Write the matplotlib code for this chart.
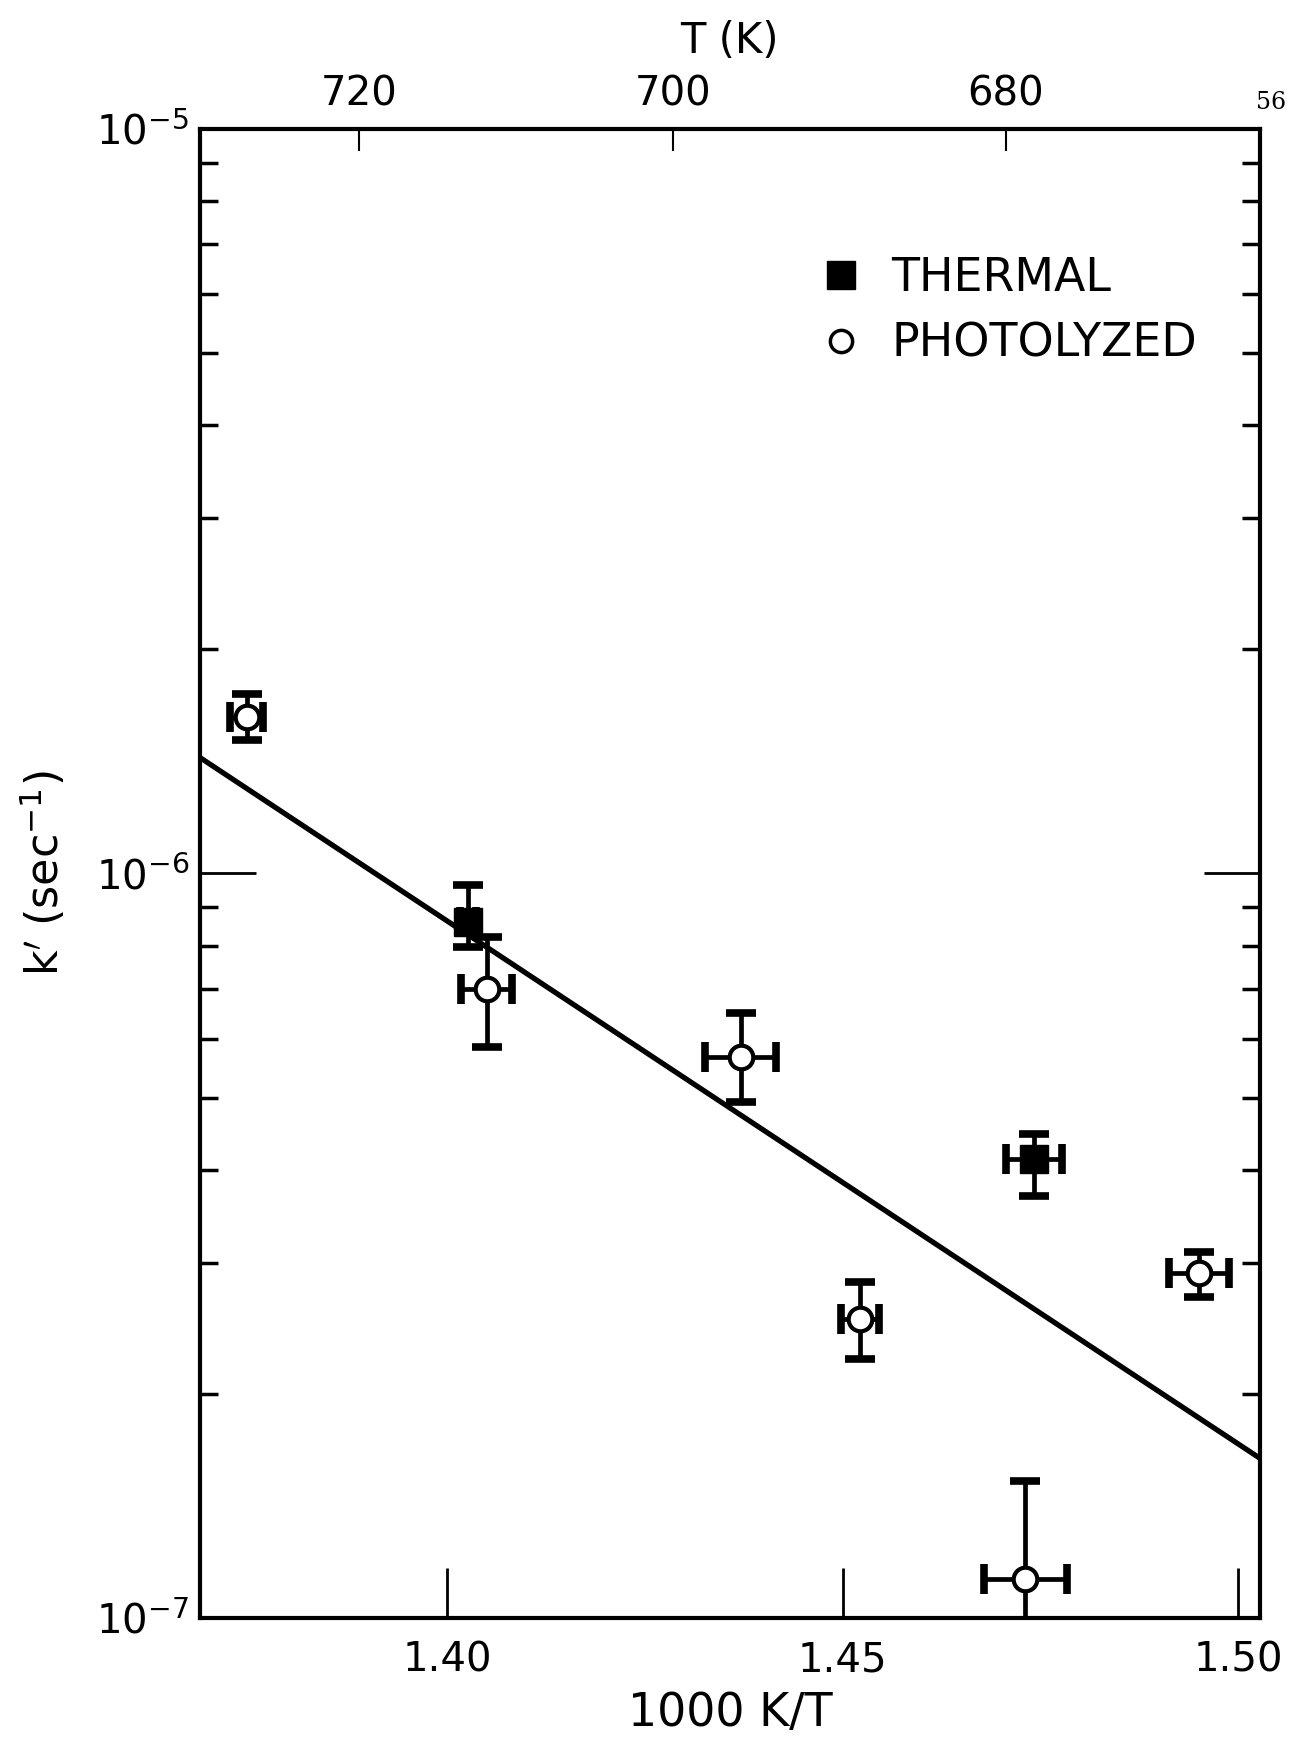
import matplotlib
matplotlib.use("Agg")
import matplotlib.pyplot as plt
from matplotlib.lines import Line2D
from matplotlib.ticker import LogLocator, NullFormatter

# data: x = 1000 K/T, y = k' (sec^-1)
photo_x = [1.3747, 1.4050, 1.4371, 1.4522, 1.4950, 1.4731]
photo_k = [1.62e-6, 7.00e-7, 5.66e-7, 2.52e-7, 2.91e-7, 1.13e-7]
photo_k_hi = [1.74e-6, 8.21e-7, 6.49e-7, 2.83e-7, 3.10e-7, 1.53e-7]
photo_k_lo = [1.51e-6, 5.84e-7, 4.93e-7, 2.23e-7, 2.70e-7, 0.80e-7]
photo_xerr = [0.0021, 0.0032, 0.0045, 0.0024, 0.0038, 0.0052]

thermal_x = [1.4027, 1.4742]
thermal_k = [8.61e-7, 4.13e-7]
thermal_k_hi = [9.65e-7, 4.47e-7]
thermal_k_lo = [7.96e-7, 3.69e-7]
thermal_xerr = [0.0010, 0.0035]

fit_x = [1.3688, 1.5027]
fit_k = [1.43e-6, 1.64e-7]

x_ticks = [1.40, 1.45, 1.50]
x_labels = ["1.40", "1.45", "1.50"]
T_ticks = [720, 700, 680]
y_ticks = [1e-7, 1e-6, 1e-5]
y_labels = [r"$\mathregular{10^{-7}}$", r"$\mathregular{10^{-6}}$", r"$\mathregular{10^{-5}}$"]

plt.rcParams['font.family'] = ['DejaVu Sans']

fig = plt.figure(figsize=(13.08, 17.38), dpi=100)
ax = fig.add_axes([0.153, 0.069, 0.810, 0.857])

ax.plot(fit_x, fit_k, color='black', lw=3.8, solid_capstyle='butt', zorder=2)

eb = dict(fmt='none', ecolor='black', elinewidth=3.4, capsize=11, capthick=5.5, zorder=3)
ax.errorbar(photo_x, photo_k,
            yerr=[[k - lo for k, lo in zip(photo_k, photo_k_lo)],
                  [hi - k for k, hi in zip(photo_k, photo_k_hi)]],
            xerr=photo_xerr, **eb)
ax.errorbar(thermal_x, thermal_k,
            yerr=[[k - lo for k, lo in zip(thermal_k, thermal_k_lo)],
                  [hi - k for k, hi in zip(thermal_k, thermal_k_hi)]],
            xerr=thermal_xerr, **eb)
ax.plot(photo_x, photo_k, 'o', ms=17, mfc='white', mec='black', mew=3, zorder=4)
ax.plot(thermal_x, thermal_k, 's', ms=20, mfc='black', mec='black', zorder=4)

ax.set_yscale('log')
ax.set_xlim(fit_x[0], fit_x[1])
ax.set_ylim(1e-7, 1e-5)

ax.set_xticks(x_ticks)
ax.set_xticklabels(x_labels)
ax.set_yticks(y_ticks)
ax.set_yticklabels(y_labels)
ax.yaxis.set_minor_locator(LogLocator(base=10, subs=range(2, 10)))
ax.yaxis.set_minor_formatter(NullFormatter())

ax.tick_params(axis='x', which='major', direction='in', length=36, width=2,
               labelsize=29, pad=16, top=False)
ax.tick_params(axis='y', which='major', direction='in', length=40, width=2,
               labelsize=29, pad=8, right=True)
ax.tick_params(axis='y', which='minor', direction='in', length=13, width=2.5, right=True)
for s in ax.spines.values():
    s.set_linewidth(3)

ax.set_xlabel("1000 K/T", fontsize=33, labelpad=8)
ax.set_ylabel(r"k$^{\prime}$ (sec$^{-1}$)", fontsize=32, labelpad=20)

top = ax.secondary_xaxis('top', functions=(lambda x: 1000 / x, lambda T: 1000 / T))
top.set_xticks(T_ticks)
top.set_xticklabels([str(t) for t in T_ticks])
top.tick_params(direction='in', length=16, width=1.5, labelsize=29, pad=10)
top.set_xlabel("T (K)", fontsize=30, labelpad=16)

handles = [Line2D([], [], ls='none', marker='s', ms=20, mfc='black', mec='black'),
           Line2D([], [], ls='none', marker='o', ms=16, mfc='white', mec='black', mew=2.5)]
ax.legend(handles, ["THERMAL", "PHOTOLYZED"], loc='upper left',
          bbox_to_anchor=(0.54, 0.942), frameon=False, fontsize=33,
          handletextpad=0.5, labelspacing=0.45, handlelength=1.2)

fig.text(0.983, 0.941, "56", fontsize=17, family='DejaVu Serif', ha='right', va='center')

fig.savefig("out.png", dpi=100, facecolor='white')
